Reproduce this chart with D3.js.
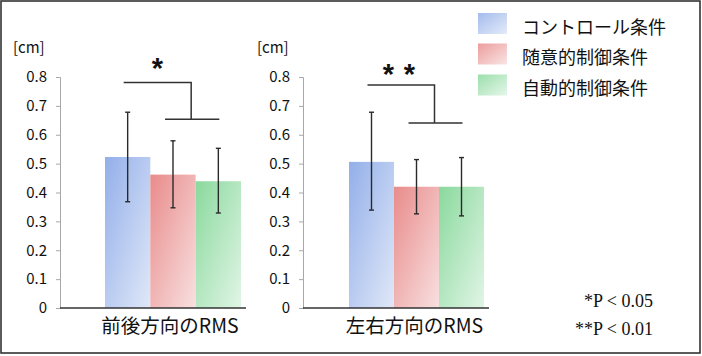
<!DOCTYPE html>
<html><head><meta charset="utf-8">
<script src="https://cdn.jsdelivr.net/npm/d3@7"></script>
<style>html,body{margin:0;padding:0;background:#fff;}svg{display:block;}</style>
</head><body>
<svg id="chart" width="702" height="356"></svg>
<script>
// ---- data ----
const series = ["コントロール条件", "随意的制御条件", "自動的制御条件"];
const panels = ["前後方向のRMS", "左右方向のRMS"];
const meansAP = [0.523, 0.462, 0.439];
const errHiAP = [0.678, 0.579, 0.553];
const errLoAP = [0.368, 0.347, 0.329];
const meansML = [0.506, 0.420, 0.420];
const errHiML = [0.678, 0.514, 0.521];
const errLoML = [0.339, 0.326, 0.319];
const sigLabels = ["*", "**"];
const bracketTop = [0.781, 0.772];
const bracketLow = [0.654, 0.641];
const yTicks = [0, 0.1, 0.2, 0.3, 0.4, 0.5, 0.6, 0.7, 0.8];
const unitLabel = "[cm]";
const footnotes = ["*P < 0.05", "**P < 0.01"];

const colors = [["#93afe9", "#e0e8f8"], ["#e98b8b", "#f8e0e0"], ["#8ad99d", "#e1f5e6"]];
const panelData = [
  {means: meansAP, hi: errHiAP, lo: errLoAP},
  {means: meansML, hi: errHiML, lo: errLoML}
];

const svg = d3.select("#chart");
const sans = "'Noto Sans CJK JP','Noto Sans',sans-serif";

const defs = svg.append("defs");
colors.forEach((c, i) => {
  const g = defs.append("linearGradient").attr("id", "grad" + i)
    .attr("x1", 0).attr("y1", 0).attr("x2", 1).attr("y2", 1);
  g.append("stop").attr("offset", "0%").attr("stop-color", c[0]);
  g.append("stop").attr("offset", "100%").attr("stop-color", c[1]);
});

// frame
svg.append("rect").attr("x", 1).attr("y", 1).attr("width", 699).attr("height", 352)
  .attr("fill", "none").attr("stroke", "#333").attr("stroke-width", 1.6);

const y = d3.scaleLinear().domain([0, 0.8]).range([308, 77]);

const layout = [
  {axisX: 60, barL: 105, barR: 241, baseR: 246, labelX: 170, unitX: 13, starDx: 0, starDy: 0},
  {axisX: 303, barL: 349, barR: 484, baseR: 489, labelX: 414.5, unitX: 257, starDx: -2, starDy: 3}
];

panels.forEach((pname, p) => {
  const L = layout[p];
  const d = panelData[p];
  const x = d3.scaleBand().domain(series).range([L.barL, L.barR]).padding(0);
  const bw = x.bandwidth();
  const g = svg.append("g");

  // axis
  const ax = g.append("g").attr("transform", `translate(${L.axisX},0)`)
    .call(d3.axisLeft(y).tickValues(yTicks).tickSize(4).tickPadding(9)
      .tickFormat(v => v === 0 ? "0" : v.toFixed(1)));
  ax.select(".domain").attr("stroke", "#a8a8a8").attr("stroke-width", 1);
  ax.selectAll(".tick line").attr("stroke", "#a8a8a8");
  ax.selectAll(".tick text").attr("font-family", sans).attr("font-size", 15).attr("fill", "#111");

  // bars
  g.selectAll("rect.bar").data(series).enter().append("rect")
    .attr("class", "bar")
    .attr("x", s => x(s)).attr("width", bw)
    .attr("y", (s, i) => y(d.means[i]))
    .attr("height", (s, i) => y(0) - y(d.means[i]))
    .attr("fill", (s, i) => `url(#grad${i})`);

  // baseline
  g.append("line").attr("x1", L.axisX).attr("x2", L.baseR)
    .attr("y1", y(0)).attr("y2", y(0)).attr("stroke", "#333").attr("stroke-width", 1.6);

  // error bars
  series.forEach((s, i) => {
    const cx = x(s) + bw / 2;
    const eg = g.append("g").attr("stroke", "#2a2a2a").attr("stroke-width", 1.4);
    eg.append("line").attr("x1", cx).attr("x2", cx).attr("y1", y(d.hi[i])).attr("y2", y(d.lo[i]));
    eg.append("line").attr("x1", cx - 2.5).attr("x2", cx + 2.5).attr("y1", y(d.hi[i])).attr("y2", y(d.hi[i]));
    eg.append("line").attr("x1", cx - 2.5).attr("x2", cx + 2.5).attr("y1", y(d.lo[i])).attr("y2", y(d.lo[i]));
  });

  // significance bracket
  const left = x(series[0]) + bw / 2 - 4;
  const lowL = x(series[1]) + bw / 2 - 8;
  const lowR = x(series[2]) + bw / 2 + 1;
  const mid = (lowL + lowR) / 2 - 1;
  const yt = y(bracketTop[p]), yl = y(bracketLow[p]);
  g.append("path")
    .attr("d", `M${left},${yt}H${mid}V${yl}M${lowL},${yl}H${lowR}`)
    .attr("fill", "none").attr("stroke", "#333").attr("stroke-width", 1.5);

  // stars
  const stars = sigLabels[p].split("");
  const starCx = (left + mid) / 2;
  const gap = 21;
  stars.forEach((st, k) => {
    g.append("text")
      .attr("x", starCx + (k - (stars.length - 1) / 2) * gap + L.starDx)
      .attr("y", yt - 4 + L.starDy)
      .attr("text-anchor", "middle")
      .attr("font-family", "'Liberation Sans',Arial,sans-serif")
      .attr("font-weight", "bold").attr("font-size", 29).attr("fill", "#111")
      .text(st);
  });

  // unit label
  g.append("text").attr("x", L.unitX).attr("y", 53)
    .attr("font-family", sans).attr("font-size", 15).attr("fill", "#111").text(unitLabel);

  // category label
  g.append("text").attr("x", L.labelX).attr("y", 333)
    .attr("text-anchor", "middle").attr("font-family", sans).attr("font-size", 19.5)
    .attr("fill", "#111").text(pname);
});

// legend
const legY = [23.5, 54, 85];
series.forEach((s, i) => {
  svg.append("rect").attr("x", 478).attr("y", legY[i] - 10.5).attr("width", 29).attr("height", 21)
    .attr("fill", `url(#grad${i})`).attr("opacity", 0.85);
  svg.append("text").attr("x", 522).attr("y", legY[i] + 2)
    .attr("dominant-baseline", "central")
    .attr("font-family", sans).attr("font-size", 18).attr("fill", "#111").text(s);
});

// footnotes
footnotes.forEach((f, i) => {
  svg.append("text").attr("x", 653).attr("y", 307 + i * 28)
    .attr("text-anchor", "end")
    .attr("font-family", "'Liberation Serif','Times New Roman',serif")
    .attr("font-size", 18).attr("fill", "#111").text(f);
});
</script>
</body></html>
